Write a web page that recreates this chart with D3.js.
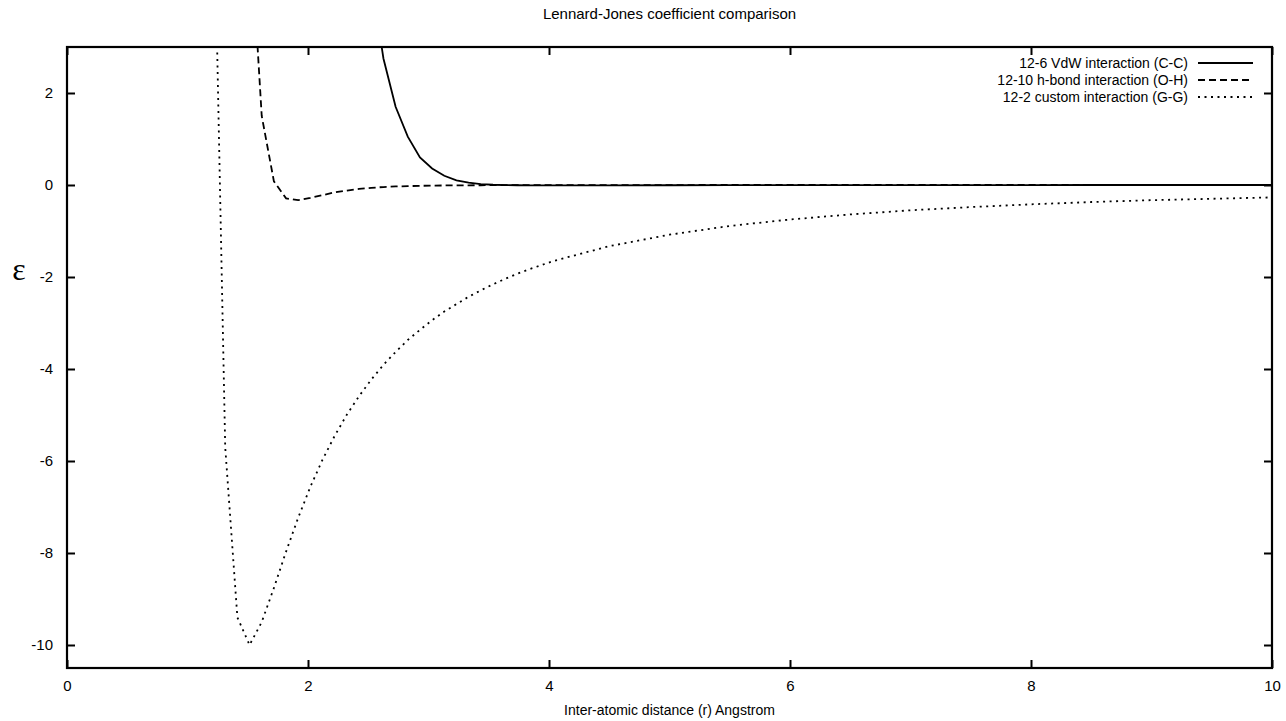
<!DOCTYPE html>
<html>
<head>
<meta charset="utf-8">
<script src="https://d3js.org/d3.v7.min.js"></script>
<style>
  body { margin: 0; background: #fff; }
  svg text { font-family: 'Liberation Sans', Arial, sans-serif; fill: #000; }
</style>
</head>
<body>
<div id="chart"></div>
<script>
// sample positions (gnuplot style sampling near the wells, coarser on the tail)
const distance = [1.212, 1.313, 1.414, 1.515, 1.616, 1.717, 1.818, 1.919, 2.020, 2.121,
    2.222, 2.323, 2.424, 2.525, 2.626, 2.727, 2.828, 2.929, 3.030, 3.131,
    3.232, 3.333, 3.434, 3.535, 3.636, 3.737, 3.838, 3.939, 4.040,
    4.5, 5, 5.5, 6, 6.5, 7, 7.5, 8, 8.5, 9, 9.5, 10];

// 12-6 VdW (C-C)
const vdwEnergy = [null, null, null, null, null, null, null, null, null, null,
    null, null, null, 4.5, 2.75, 1.7, 1.05, 0.6, 0.36, 0.2,
    0.1, 0.05, 0.02, 0.005, -0.002, -0.005, -0.006, -0.007, -0.007,
    -0.006, -0.005, -0.003, -0.002, -0.002, -0.001, -0.001, -0.001, 0, 0, 0, 0];

// 12-10 h-bond (O-H)
const hbondEnergy = [null, null, null, 5.9, 1.5, 0.08, -0.29, -0.33, -0.28, -0.22,
    -0.16, -0.12, -0.085, -0.061, -0.044, -0.032, -0.024, -0.018, -0.013, -0.01,
    -0.008, -0.006, -0.005, -0.004, -0.003, -0.003, -0.002, -0.002, -0.002,
    -0.001, -0.001, 0, 0, 0, 0, 0, 0, 0, 0, 0, 0];

// 12-2 custom (G-G)
const customEnergy = [7.4, -5.7, -9.4, -10.0, -9.5, -8.76, -7.97, -7.23, -6.56, -5.97,
    -5.45, -4.99, -4.59, -4.23, -3.91, -3.63, -3.37, -3.15, -2.94, -2.75,
    -2.59, -2.43, -2.29, -2.16, -2.04, -1.93, -1.83, -1.74, -1.65,
    -1.33, -1.08, -0.89, -0.75, -0.64, -0.55, -0.48, -0.42, -0.37, -0.33, -0.30, -0.27];

const seriesNames = ['12-6 VdW interaction (C-C)', '12-10 h-bond interaction (O-H)', '12-2 custom interaction (G-G)'];
const seriesDash = [null, '7,4', '2,4.5'];
const xTicks = [0, 2, 4, 6, 8, 10];
const yTicks = [-10, -8, -6, -4, -2, 0, 2];

const width = 1286, height = 721;
const margin = { left: 67, right: 14, top: 47, bottom: 53 };

const svg = d3.select('#chart').append('svg')
    .attr('width', width)
    .attr('height', height);

const x = d3.scaleLinear().domain([0, 10]).range([margin.left, width - margin.right]);
const y = d3.scaleLinear().domain([-10.5, 3]).range([height - margin.bottom, margin.top]);

svg.append('defs').append('clipPath').attr('id', 'plot-clip')
  .append('rect')
    .attr('x', x(0)).attr('y', y(3))
    .attr('width', x(10) - x(0)).attr('height', y(-10.5) - y(3));

// curves
const allSeries = [vdwEnergy, hbondEnergy, customEnergy];
const line = d3.line()
    .defined(d => d[1] !== null)
    .x(d => x(d[0]))
    .y(d => y(d[1]));

const curves = svg.append('g').attr('clip-path', 'url(#plot-clip)');
allSeries.forEach((vals, i) => {
    curves.append('path')
        .datum(distance.map((r, j) => [r, vals[j]]))
        .attr('fill', 'none')
        .attr('stroke', '#000')
        .attr('stroke-width', 1.8)
        .attr('stroke-dasharray', seriesDash[i])
        .attr('d', line);
});

// axes with inward ticks, mirrored
const tickLen = 8;
const plainNum = d => String(d);   // keep ascii hyphen for negatives
svg.append('g')
    .attr('transform', `translate(0,${y(-10.5)})`)
    .call(d3.axisBottom(x).tickValues(xTicks).tickFormat(plainNum).tickSizeInner(-tickLen).tickSizeOuter(0).tickPadding(12))
    .call(g => g.select('.domain').remove());
svg.append('g')
    .attr('transform', `translate(0,${y(3)})`)
    .call(d3.axisTop(x).tickValues(xTicks).tickSizeInner(-tickLen).tickSizeOuter(0).tickFormat(''))
    .call(g => g.select('.domain').remove());
svg.append('g')
    .attr('transform', `translate(${x(0)},0)`)
    .call(d3.axisLeft(y).tickValues(yTicks).tickFormat(plainNum).tickSizeInner(-tickLen).tickSizeOuter(0).tickPadding(14))
    .call(g => g.select('.domain').remove());
svg.append('g')
    .attr('transform', `translate(${x(10)},0)`)
    .call(d3.axisRight(y).tickValues(yTicks).tickSizeInner(-tickLen).tickSizeOuter(0).tickFormat(''))
    .call(g => g.select('.domain').remove());

svg.selectAll('.tick line').attr('stroke', '#000').attr('stroke-width', 2);
svg.selectAll('.tick text')
    .style('font-family', "'Liberation Sans', Arial, sans-serif")
    .style('font-size', '15px')
    .attr('fill', '#000');

// frame
svg.append('rect')
    .attr('x', x(0)).attr('y', y(3))
    .attr('width', x(10) - x(0)).attr('height', y(-10.5) - y(3))
    .attr('fill', 'none')
    .attr('stroke', '#000')
    .attr('stroke-width', 2.2);

// legend
const legend = svg.append('g');
seriesNames.forEach((name, i) => {
    const ly = 63 + i * 17;
    legend.append('text')
        .attr('x', 1188).attr('y', ly)
        .attr('dy', '0.35em')
        .attr('text-anchor', 'end')
        .style('font-size', '14px')
        .text(name);
    legend.append('line')
        .attr('x1', 1198).attr('x2', 1253)
        .attr('y1', ly).attr('y2', ly)
        .attr('stroke', '#000')
        .attr('stroke-width', 1.8)
        .attr('stroke-dasharray', seriesDash[i]);
});

// titles
svg.append('text')
    .attr('x', (x(0) + x(10)) / 2).attr('y', 19)
    .attr('text-anchor', 'middle')
    .style('font-size', '15px')
    .text('Lennard-Jones coefficient comparison');

svg.append('text')
    .attr('x', (x(0) + x(10)) / 2).attr('y', 715)
    .attr('text-anchor', 'middle')
    .style('font-size', '14px')
    .text('Inter-atomic distance (r) Angstrom');

svg.append('text')
    .attr('x', 19).attr('y', 280)
    .attr('text-anchor', 'middle')
    .style('font-family', "'Liberation Serif', 'DejaVu Serif', serif")
    .style('font-size', '32px')
    .text('ε');
</script>
</body>
</html>
